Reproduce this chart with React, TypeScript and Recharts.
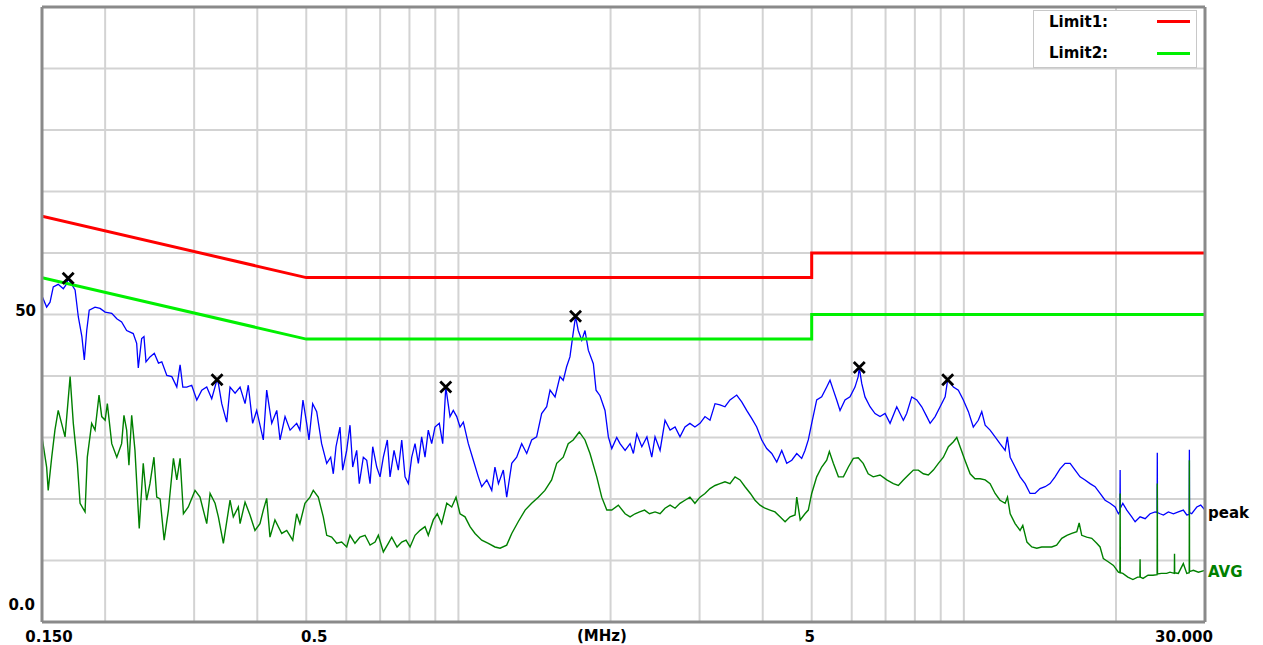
import React from 'react';
import { ComposedChart, Line, Scatter, XAxis, YAxis, CartesianGrid, ReferenceLine } from 'recharts';

// axis ticks (MHz / dB)
const FREQ_TICKS = [0.15, 0.2, 0.3, 0.4, 0.5, 0.6, 0.7, 0.8, 0.9, 1, 2, 3, 4, 5, 6, 7, 8, 9, 10, 20, 30];
const LEVEL_TICKS = [0, 10, 20, 30, 40, 50, 60, 70, 80, 90, 100];
const X_LABELS: Record<string, string> = { '0.15': '0.150', '0.5': '0.5', '5': '5', '30': '30.000' };
const Y_LABELS: Record<string, string> = { '0': '0.0', '50': '50' };

// limit lines
const LIMIT_FREQ = [0.15, 0.5, 5, 5, 30];
const LIMIT1_LEVEL = [66, 56, 56, 60, 60];
const LIMIT2_LEVEL = [56, 46, 46, 50, 50];

// peak detector trace
const PEAK_FREQ = [
    0.150, 0.1532, 0.1556, 0.1579, 0.1615, 0.1653, 0.1679, 0.169, 0.1705, 0.1744,
    0.1770, 0.1799, 0.1819, 0.1839, 0.1860, 0.191, 0.1954, 0.200, 0.2061, 0.2109,
    0.2156, 0.2206, 0.2273, 0.2309, 0.2326, 0.2362, 0.2387, 0.2409, 0.2453, 0.2502,
    0.2550, 0.2589, 0.2649, 0.2710, 0.2772, 0.2814, 0.2849, 0.2901, 0.2967, 0.3036,
    0.3106, 0.3177, 0.3250, 0.333, 0.335, 0.3402, 0.3480, 0.3533, 0.3615, 0.3698,
    0.3783, 0.3839, 0.3916, 0.3989, 0.4111, 0.4175, 0.4272, 0.4371, 0.4437, 0.4539,
    0.4644, 0.4786, 0.4857, 0.4925, 0.5009, 0.5062, 0.5148, 0.5243, 0.5362, 0.5488,
    0.5588, 0.5655, 0.5725, 0.5830, 0.5902, 0.6011, 0.6102, 0.6178, 0.6291, 0.6366,
    0.6484, 0.6585, 0.6686, 0.6768, 0.6892, 0.6997, 0.7103, 0.7233, 0.7323, 0.7458,
    0.7605, 0.7724, 0.7841, 0.7960, 0.8084, 0.8206, 0.8331, 0.8458, 0.8588, 0.8717,
    0.8853, 0.8988, 0.9165, 0.9309, 0.944, 0.9624, 0.9768, 0.9923, 1.0073, 1.0226,
    1.0461, 1.0703, 1.095, 1.112, 1.138, 1.164, 1.181, 1.200, 1.227, 1.246,
    1.275, 1.304, 1.334, 1.365, 1.396, 1.428, 1.461, 1.495, 1.518, 1.553,
    1.588, 1.612, 1.637, 1.662, 1.683, 1.705, 1.726, 1.754, 1.780, 1.807,
    1.849, 1.872, 1.906, 1.950, 1.980, 2.011, 2.057, 2.088, 2.137, 2.186,
    2.219, 2.254, 2.306, 2.360, 2.413, 2.449, 2.506, 2.563, 2.623, 2.683,
    2.744, 2.807, 2.871, 2.937, 3.006, 3.075, 3.146, 3.219, 3.292, 3.368,
    3.446, 3.553, 3.635, 3.718, 3.804, 3.892, 3.982, 4.073, 4.168, 4.264,
    4.362, 4.463, 4.566, 4.671, 4.777, 4.849, 4.923, 5.0, 5.115, 5.233,
    5.354, 5.435, 5.518, 5.603, 5.689, 5.819, 5.953, 6.09, 6.18, 6.21,
    6.28, 6.374, 6.522, 6.672, 6.826, 6.984, 7.145, 7.366, 7.591, 7.707,
    7.887, 8.07, 8.254, 8.447, 8.576, 8.773, 8.975, 9.183, 9.29, 9.536,
    9.752, 9.977, 10.21, 10.44, 10.68, 10.85, 11.02, 11.27, 11.53, 11.79,
    12.07, 12.19, 12.35, 12.63, 12.92, 13.22, 13.52, 13.83, 14.15, 14.48,
    14.81, 15.15, 15.5, 15.86, 16.23, 16.6, 16.98, 17.37, 17.77, 18.18,
    18.6, 19.03, 19.47, 19.92, 20.22, 20.36, 20.38, 20.40, 20.63, 21.01,
    21.49, 21.82, 22.32, 22.84, 23.36, 23.9, 24.12, 24.14, 24.16, 24.45,
    24.82, 25.39, 25.98, 26.57, 27.18, 27.61, 27.92, 27.94, 27.96, 28.24,
    28.9, 29.42, 30.0,
];
const PEAK_LEVEL = [
    53.0, 51.2, 52.0, 54.5, 54.9, 54.2, 55.0, 55.9, 55.3, 54.0,
    49.6, 46.4, 42.6, 47.4, 50.7, 51.2, 51.0, 50.4, 50.2, 49.3,
    48.8, 47.4, 46.9, 45.3, 41.3, 46.1, 46.4, 42.3, 43.1, 43.7,
    42.1, 42.3, 40.1, 39.9, 38.2, 41.8, 38.2, 38.2, 38.5, 36.1,
    37.7, 38.2, 36.3, 39.4, 38.8, 35.5, 32.5, 38.2, 37.2, 38.2,
    35.5, 38.5, 32.3, 34.4, 29.6, 37.7, 32.3, 34.4, 29.6, 33.4,
    31.2, 32.3, 31.2, 36.1, 32.3, 29.6, 35.5, 34.2, 29.0, 25.8,
    26.8, 24.1, 28.5, 31.7, 24.7, 27.9, 32.0, 25.2, 27.9, 22.5,
    26.8, 26.3, 22.5, 28.5, 25.2, 23.6, 26.8, 29.6, 23.6, 27.9,
    24.7, 29.6, 23.6, 22.5, 26.8, 29.0, 25.8, 30.1, 26.8, 31.2,
    29.0, 31.7, 32.3, 29.0, 38.2, 33.4, 34.4, 33.4, 31.7, 32.5,
    29.0, 26.3, 23.6, 22.0, 23.1, 21.4, 25.2, 22.5, 24.7, 20.3,
    25.8, 26.8, 29.0, 27.4, 29.6, 30.1, 33.9, 35.0, 37.7, 36.6,
    39.9, 39.3, 41.5, 43.1, 46.4, 49.7, 47.4, 45.8, 47.4, 44.2,
    42.0, 37.7, 36.8, 34.4, 30.1, 28.2, 30.0, 29.0, 27.9, 29.0,
    27.4, 30.6, 28.5, 30.1, 26.8, 30.1, 27.9, 32.8, 31.2, 31.7,
    30.1, 31.7, 32.3, 31.7, 32.3, 33.4, 32.8, 35.5, 35.3, 35.0,
    36.1, 36.9, 35.8, 34.4, 33.1, 31.7, 29.6, 28.2, 27.4, 26.0,
    27.9, 25.8, 26.3, 27.4, 26.6, 27.9, 29.6, 32.3, 36.1, 36.6,
    38.2, 39.3, 37.7, 36.1, 34.4, 36.1, 36.6, 38.2, 39.9, 41.4,
    38.8, 36.6, 35.0, 33.9, 33.4, 33.9, 32.3, 35.0, 32.8, 33.9,
    36.6, 36.1, 35.0, 33.4, 32.3, 33.4, 35.0, 36.6, 39.4, 38.2,
    37.7, 36.1, 34.2, 31.7, 32.8, 34.2, 32.0, 31.2, 30.1, 29.0,
    27.9, 30.1, 26.8, 25.2, 23.6, 22.5, 20.9, 20.9, 21.7, 22.0,
    22.5, 23.6, 24.9, 25.8, 25.8, 24.7, 23.6, 23.1, 22.5, 22.0,
    20.9, 19.8, 19.3, 18.7, 17.6, 18.0, 24.7, 18.5, 19.3, 18.2,
    17.1, 16.3, 17.1, 16.8, 17.6, 17.9, 17.8, 27.5, 17.8, 17.6,
    17.4, 17.9, 17.6, 17.9, 18.2, 17.4, 17.5, 28.0, 17.8, 17.6,
    18.7, 19.0, 18.2,
];

// average detector trace
const AVG_FREQ = [
    0.150, 0.1532, 0.1543, 0.1568, 0.1591, 0.1615, 0.1640, 0.1666, 0.1705, 0.173,
    0.1762, 0.1784, 0.1825, 0.1844, 0.1881, 0.191, 0.1945, 0.1969, 0.200, 0.202,
    0.2061, 0.2109, 0.2156, 0.2179, 0.2206, 0.2229, 0.2257, 0.2291, 0.2336, 0.2379,
    0.2416, 0.2453, 0.2498, 0.2530, 0.2569, 0.2617, 0.2668, 0.2730, 0.2772, 0.2814,
    0.2857, 0.2921, 0.3012, 0.3081, 0.3177, 0.3226, 0.33, 0.335, 0.3427, 0.3533,
    0.3586, 0.3669, 0.3698, 0.3783, 0.3869, 0.3958, 0.4049, 0.4111, 0.4175, 0.4238,
    0.4335, 0.4471, 0.4574, 0.4701, 0.4786, 0.4857, 0.4970, 0.5085, 0.5162, 0.5281,
    0.5403, 0.5488, 0.5613, 0.5743, 0.5875, 0.6011, 0.6102, 0.6242, 0.6386, 0.6535,
    0.6686, 0.6841, 0.6943, 0.7103, 0.7266, 0.7379, 0.7561, 0.7724, 0.7877, 0.8022,
    0.8206, 0.8396, 0.8588, 0.8717, 0.8918, 0.9082, 0.9265, 0.9483, 0.9699, 0.9891,
    1.0073, 1.0305, 1.0542, 1.0785, 1.112, 1.146, 1.181, 1.209, 1.246, 1.275,
    1.313, 1.355, 1.396, 1.439, 1.483, 1.529, 1.565, 1.612, 1.649, 1.687,
    1.734, 1.780, 1.821, 1.878, 1.921, 1.966, 2.011, 2.072, 2.137, 2.186,
    2.236, 2.283, 2.335, 2.388, 2.449, 2.506, 2.563, 2.623, 2.683, 2.744,
    2.807, 2.871, 2.937, 3.006, 3.075, 3.146, 3.219, 3.292, 3.368, 3.446,
    3.526, 3.607, 3.69, 3.781, 3.862, 3.951, 4.042, 4.135, 4.23, 4.328,
    4.429, 4.531, 4.635, 4.671, 4.745, 4.849, 4.923, 5.0, 5.115, 5.233,
    5.354, 5.419, 5.518, 5.647, 5.777, 5.909, 6.044, 6.18, 6.322, 6.467,
    6.617, 6.826, 7.038, 7.253, 7.42, 7.591, 7.766, 7.945, 8.128, 8.315,
    8.506, 8.703, 8.905, 9.11, 9.32, 9.536, 9.683, 9.83, 10.05, 10.29,
    10.52, 10.77, 11.02, 11.27, 11.53, 11.79, 12.07, 12.2, 12.35, 12.63,
    12.92, 13.08, 13.33, 13.63, 13.94, 14.26, 14.59, 14.92, 15.26, 15.62,
    15.99, 16.35, 16.73, 16.91, 17.11, 17.5, 17.91, 18.32, 18.6, 18.88,
    19.3, 19.77, 20.22, 20.36, 20.38, 20.40, 20.63, 21.11, 21.6, 22.07,
    22.30, 22.32, 22.34, 22.62, 23.14, 23.67, 24.12, 24.14, 24.16, 24.6,
    25.19, 25.58, 26.09, 26.11, 26.13, 26.57, 27.18, 27.61, 27.92, 27.94,
    27.96, 28.45, 29.11, 30.0,
];
const AVG_LEVEL = [
    30.1, 25.2, 21.4, 26.8, 31.2, 34.4, 32.3, 30.1, 39.9, 32.3,
    25.8, 19.3, 17.9, 26.8, 32.3, 31.2, 36.9, 33.4, 32.8, 35.5,
    29.0, 26.8, 29.0, 33.6, 31.2, 25.5, 33.6, 27.9, 15.2, 25.8,
    19.8, 22.5, 26.8, 20.3, 20.0, 13.3, 18.2, 26.6, 23.1, 26.6,
    17.6, 18.7, 21.4, 20.3, 16.0, 20.9, 19.3, 17.1, 12.8, 19.8,
    17.1, 18.7, 16.0, 19.5, 17.4, 14.9, 16.0, 18.2, 20.1, 13.8,
    16.6, 14.4, 14.9, 13.3, 17.6, 16.0, 19.3, 20.3, 21.4, 20.3,
    17.1, 14.1, 13.8, 12.8, 13.0, 12.2, 14.1, 12.8, 13.8, 14.1,
    12.5, 13.0, 14.1, 11.4, 12.8, 13.8, 12.2, 13.0, 13.3, 12.2,
    14.1, 14.9, 15.5, 14.1, 16.6, 17.6, 16.0, 19.3, 18.7, 20.3,
    17.6, 17.1, 15.5, 14.4, 13.3, 12.8, 12.2, 12.0, 12.5, 14.4,
    16.3, 18.2, 19.3, 20.3, 21.4, 23.1, 25.8, 26.8, 29.0, 29.6,
    30.9, 29.6, 27.4, 23.6, 20.3, 18.2, 18.2, 19.0, 17.6, 17.1,
    17.6, 17.9, 18.2, 17.6, 17.9, 17.6, 18.5, 19.0, 18.5, 19.3,
    19.8, 20.3, 19.3, 20.3, 20.9, 21.7, 22.2, 22.5, 22.8, 22.5,
    23.6, 23.1, 22.0, 20.9, 19.8, 19.0, 18.5, 18.2, 17.9, 17.1,
    16.3, 17.1, 17.4, 20.3, 16.6, 17.6, 18.2, 20.9, 23.6, 25.2,
    26.3, 27.7, 25.8, 23.6, 23.6, 25.2, 26.6, 26.7, 25.8, 24.1,
    23.6, 23.9, 23.1, 22.5, 22.2, 23.1, 23.9, 24.7, 24.7, 24.1,
    23.9, 24.7, 25.8, 26.8, 28.5, 29.3, 30.0, 28.5, 26.3, 24.1,
    23.3, 23.3, 23.1, 22.5, 20.9, 19.8, 19.3, 20.3, 17.6, 16.0,
    14.9, 15.7, 13.0, 12.2, 12.0, 12.2, 12.2, 12.2, 12.5, 13.6,
    14.1, 14.4, 14.7, 16.1, 14.1, 13.8, 13.6, 12.8, 12.2, 10.3,
    9.8, 9.2, 8.1, 8.0, 20.9, 8.0, 7.9, 7.3, 6.9, 7.3,
    7.3, 10.2, 7.3, 7.1, 7.6, 7.6, 7.7, 22.5, 7.8, 7.9,
    7.9, 8.1, 7.9, 11.1, 8.0, 7.9, 9.5, 7.9, 8.0, 26.3,
    8.2, 8.4, 8.1, 8.4,
];

// marked peaks
const MARKER_FREQ = [0.169, 0.333, 0.944, 1.705, 6.21, 9.29];
const MARKER_LEVEL = [55.9, 39.4, 38.2, 49.7, 41.4, 39.4];

const zip = (f: number[], v: number[]) => f.map((freq, i) => ({ freq, level: v[i] }));

const limit1 = zip(LIMIT_FREQ, LIMIT1_LEVEL);
const limit2 = zip(LIMIT_FREQ, LIMIT2_LEVEL);
const peak = zip(PEAK_FREQ, PEAK_LEVEL);
const avg = zip(AVG_FREQ, AVG_LEVEL);
const markers = zip(MARKER_FREQ, MARKER_LEVEL);

const FONT = '"DejaVu Sans", Verdana, sans-serif';
const FRAME = '#8a8a8a';

const XTick = (props: any) => {
    const { x, payload } = props;
    const label = X_LABELS[String(payload.value)];
    if (!label) return <g />;
    const dx: Record<string, number> = { '0.150': 7, '0.5': 8, '5': -2, '30.000': -21 };
    return (
        <text x={x + dx[label]} y={642} textAnchor="middle" fontFamily={FONT} fontWeight="bold" fontSize={15} fill="#000">
            {label}
        </text>
    );
};

const YTick = (props: any) => {
    const { y, payload } = props;
    const label = Y_LABELS[String(payload.value)];
    if (!label) return <g />;
    const dy = payload.value === 0 ? -12 : 1;
    return (
        <text x={label === '50' ? 36 : 35} y={y + dy} textAnchor="end" fontFamily={FONT} fontWeight="bold" fontSize={15} fill="#000">
            {label}
        </text>
    );
};

const Cross = (props: any) => {
    const { cx, cy } = props;
    const s = 5.5;
    return (
        <path
            d={`M${cx - s},${cy - s}L${cx + s},${cy + s}M${cx - s},${cy + s}L${cx + s},${cy - s}`}
            stroke="#000"
            strokeWidth={2.8}
            fill="none"
        />
    );
};

const textStyle: React.CSSProperties = {
    position: 'absolute',
    fontFamily: FONT,
    fontWeight: 'bold',
    fontSize: 15,
    lineHeight: '17px',
    whiteSpace: 'nowrap',
};

export default function App() {
    return (
        <div style={{ position: 'relative', width: 1263, height: 645, background: '#fff' }}>
            <style>{'body{margin:0}'}</style>
            <ComposedChart width={1263} height={645} margin={{ top: 7, right: 58, bottom: 0, left: 0 }}>
                <CartesianGrid stroke="#d3d3d3" strokeWidth={2} />
                <XAxis
                    dataKey="freq"
                    type="number"
                    scale="log"
                    domain={[0.15, 30]}
                    ticks={FREQ_TICKS}
                    allowDataOverflow
                    height={23}
                    axisLine={false}
                    tickLine={false}
                    tick={<XTick />}
                    interval={0}
                />
                <YAxis
                    type="number"
                    domain={[0, 100]}
                    ticks={LEVEL_TICKS}
                    width={42}
                    axisLine={false}
                    tickLine={false}
                    tick={<YTick />}
                    interval={0}
                />
                <Line data={peak} dataKey="level" stroke="#0000ff" strokeWidth={1.3} dot={false} isAnimationActive={false} />
                <Line data={avg} dataKey="level" stroke="#008000" strokeWidth={1.4} dot={false} isAnimationActive={false} />
                <Line data={limit1} dataKey="level" stroke="#ff0000" strokeWidth={3} dot={false} isAnimationActive={false} />
                <Line data={limit2} dataKey="level" stroke="#00f000" strokeWidth={3} dot={false} isAnimationActive={false} />
                <Scatter data={markers} dataKey="level" shape={<Cross />} isAnimationActive={false} />
                <ReferenceLine x={0.15} stroke={FRAME} strokeWidth={3} />
                <ReferenceLine x={30} stroke={FRAME} strokeWidth={3} />
                <ReferenceLine y={0} stroke={FRAME} strokeWidth={3} />
                <ReferenceLine y={100} stroke={FRAME} strokeWidth={3} />
            </ComposedChart>

            <div style={{ ...textStyle, left: 577, top: 628 }}>(MHz)</div>
            <div style={{ ...textStyle, left: 1208, top: 505 }}>peak</div>
            <div style={{ ...textStyle, left: 1208, top: 564, color: '#008000' }}>AVG</div>

            <div
                style={{
                    position: 'absolute',
                    left: 1033,
                    top: 10,
                    width: 162,
                    height: 56,
                    border: '1px solid #c8c8c8',
                    background: '#fff',
                }}
            >
                <div style={{ ...textStyle, left: 15, top: 3 }}>Limit1:</div>
                <div style={{ position: 'absolute', left: 123, top: 9, width: 33, height: 3, background: '#ff0000' }} />
                <div style={{ ...textStyle, left: 15, top: 34 }}>Limit2:</div>
                <div style={{ position: 'absolute', left: 123, top: 41, width: 33, height: 3, background: '#00f000' }} />
            </div>
        </div>
    );
}
